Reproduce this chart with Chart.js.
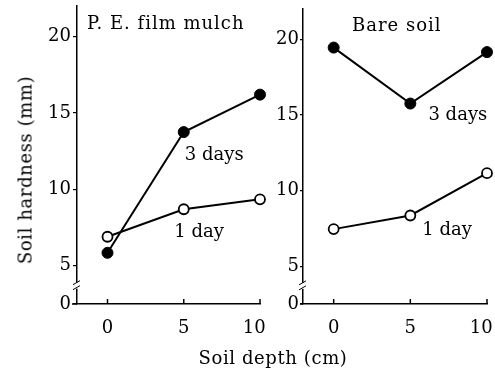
<!DOCTYPE html>
<html>
<head>
<meta charset="utf-8">
<script src="https://cdn.jsdelivr.net/npm/chart.js@4.4.0/dist/chart.umd.min.js"></script>
<style>
  html, body { margin: 0; padding: 0; background: #fff; }
  #wrap { position: relative; width: 495px; height: 375px; font-family: 'DejaVu Serif', serif; color: #000; overflow: hidden; }
  canvas { position: absolute; top: 0; }
  #c1 { left: 0; }
  #c2 { left: 250px; }
  .axis-title { position: absolute; font-size: 18px; white-space: nowrap; letter-spacing: 0.6px; }
  #ytitle { left: 25px; top: 170px; transform: translate(-50%, -50%) rotate(-90deg); }
  #xtitle { left: 273px; top: 357px; transform: translate(-50%, -50%); }
</style>
</head>
<body>
<div id="wrap">
  <canvas id="c1" width="275" height="375"></canvas>
  <canvas id="c2" width="245" height="375"></canvas>
  <div class="axis-title" id="ytitle">Soil hardness (mm)</div>
  <div class="axis-title" id="xtitle">Soil depth (cm)</div>
</div>
<script>
// soil depth (cm)
const depth = [0, 5, 10];
const xTicks = [0, 5, 10];
// soil hardness (mm); 2.5 stands for the broken-axis "0"
const yTicks = [2.5, 5, 10, 15, 20];

const peOneDay = [6.9, 8.7, 9.35];
const peThreeDays = [5.85, 13.75, 16.2];
const bareOneDay = [7.45, 8.35, 11.15];
const bareThreeDays = [19.45, 15.75, 19.15];

const FONT = "'DejaVu Serif', serif";

// axis break, inward x ticks, panel title and series labels
const panelText = {
  id: 'panelText',
  afterDraw(chart, args, opts) {
    const ctx = chart.ctx;
    const xs = chart.scales.x, ys = chart.scales.y;
    const area = chart.chartArea;
    ctx.save();
    ctx.strokeStyle = '#000';
    ctx.lineWidth = 1.5;

    // inward x ticks
    xTicks.forEach(v => {
      const px = xs.getPixelForValue(v);
      ctx.beginPath();
      ctx.moveTo(px, area.bottom);
      ctx.lineTo(px, area.bottom - 5);
      ctx.stroke();
    });

    // x axis runs a little left of the y axis
    ctx.beginPath();
    ctx.moveTo(area.left - opts.stub, area.bottom);
    ctx.lineTo(area.left, area.bottom);
    ctx.stroke();

    // break mark on the y axis
    const yb = ys.getPixelForValue(3.7);
    ctx.fillStyle = '#fff';
    ctx.fillRect(area.left - 2, yb - 3, 4, 6);
    ctx.lineWidth = 1;
    ctx.beginPath();
    ctx.moveTo(area.left - 4, yb - 1);
    ctx.lineTo(area.left + 3, yb - 5);
    ctx.moveTo(area.left - 4, yb + 4);
    ctx.lineTo(area.left + 3, yb);
    ctx.stroke();

    ctx.fillStyle = '#000';
    ctx.font = '18px ' + FONT;
    ctx.letterSpacing = '1px';
    ctx.textAlign = 'left';
    ctx.textBaseline = 'alphabetic';
    ctx.fillText(opts.title, area.left + opts.titleDx, opts.titleY);

    ctx.letterSpacing = '0px';
    ctx.textAlign = 'center';
    ctx.textBaseline = 'middle';
    opts.labels.forEach(l => {
      ctx.fillText(l.text, xs.getPixelForValue(l.x), ys.getPixelForValue(l.y));
    });
    ctx.restore();
  }
};

function makePanel(canvasId, oneDay, threeDays, layout) {
  const ctx = document.getElementById(canvasId).getContext('2d');
  return new Chart(ctx, {
    type: 'line',
    data: {
      datasets: [
        {
          label: '3 days',
          data: depth.map((d, i) => ({ x: d, y: threeDays[i] })),
          borderColor: '#000',
          backgroundColor: '#000',
          borderWidth: 2,
          pointRadius: 5.5,
          pointBorderWidth: 1,
          pointBackgroundColor: '#000',
          clip: false,
        },
        {
          label: '1 day',
          data: depth.map((d, i) => ({ x: d, y: oneDay[i] })),
          borderColor: '#000',
          backgroundColor: '#fff',
          borderWidth: 2,
          pointRadius: 5,
          pointBorderWidth: 1.8,
          pointBackgroundColor: '#fff',
          clip: false,
        },
      ],
    },
    options: {
      responsive: false,
      animation: false,
      layout: { autoPadding: false, padding: { left: 0, top: layout.top, right: layout.right, bottom: 0 } },
      plugins: {
        legend: { display: false },
        tooltip: { enabled: false },
        panelText: layout.text,
      },
      scales: {
        x: {
          type: 'linear',
          min: -2,
          max: 10,
          afterBuildTicks: (s) => { s.ticks = xTicks.map(v => ({ value: v })); },
          afterFit: (s) => { s.height = 71; s.paddingLeft = 0; s.paddingRight = 0; },
          grid: { display: false, drawTicks: false },
          border: { display: true, color: '#000', width: 1.5 },
          ticks: {
            color: '#000',
            padding: 14,
            font: { family: FONT, size: 18 },
            // the "10" sits a little left of its tick in the original
            callback: (v) => (v === 10 ? '10\u2007' : String(v)),
          },
        },
        y: {
          min: 2.5,
          max: 22,
          afterBuildTicks: (s) => { s.ticks = yTicks.map(v => ({ value: v })); },
          afterFit: (s) => { s.width = layout.yWidth; s.paddingTop = 0; s.paddingBottom = 0; },
          grid: { drawOnChartArea: false, color: '#000', lineWidth: 1.2, tickLength: layout.tickLen },
          border: { display: true, color: '#000', width: 1.5 },
          ticks: {
            color: '#000',
            padding: layout.tickPad,
            font: { family: FONT, size: 18 },
            callback: (v) => (v === 2.5 ? '0' : String(v)),
          },
        },
      },
    },
    plugins: [panelText],
  });
}

makePanel('c1', peOneDay, peThreeDays, {
  top: 6, right: 15, yWidth: 77, tickLen: 4, tickPad: 2,
  text: {
    title: 'P. E. film mulch', titleDx: 10, titleY: 29, stub: 5,
    labels: [
      { text: '3 days', x: 7.0, y: 12.2 },
      { text: '1 day', x: 6.0, y: 7.2 },
    ],
  },
});

makePanel('c2', bareOneDay, bareThreeDays, {
  top: 9, right: 8, yWidth: 53, tickLen: 3, tickPad: 1,
  text: {
    title: 'Bare soil', titleDx: 49, titleY: 31, stub: 3,
    labels: [
      { text: '3 days', x: 8.1, y: 15.0 },
      { text: '1 day', x: 7.4, y: 7.35 },
    ],
  },
});
</script>
</body>
</html>
